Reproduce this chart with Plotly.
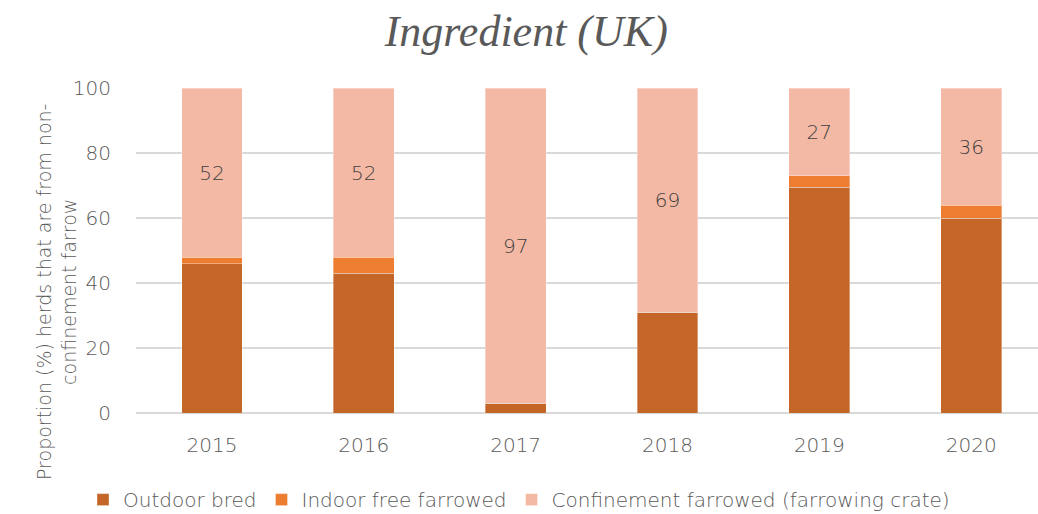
import plotly.graph_objects as go

# Data
years = ['2015', '2016', '2017', '2018', '2019', '2020']
outdoor_bred = [46, 43, 3, 31, 69.5, 60]
indoor_free = [2, 5, 0, 0, 3.5, 4]
confinement = [52, 52, 97, 69, 27, 36]
y_ticks = [0, 20, 40, 60, 80, 100]

COL_OUTDOOR = '#C46628'
COL_INDOOR = '#ED7D31'
COL_CONFINE = '#F4B9A5'
TEXT_GREY = '#595959'
GRID = '#D9D9D9'
FONT = 'DejaVu Sans'
W = 200

fig = go.Figure()

fig.add_trace(go.Bar(
    x=years, y=outdoor_bred, name='Outdoor bred',
    marker=dict(color=COL_OUTDOOR, line=dict(color='rgba(255,255,255,0.35)', width=1)),
    hoverinfo='skip'
))
fig.add_trace(go.Bar(
    x=years, y=indoor_free, name='Indoor free farrowed',
    marker=dict(color=COL_INDOOR, line=dict(color='rgba(255,255,255,0.35)', width=1)),
    hoverinfo='skip'
))
fig.add_trace(go.Bar(
    x=years, y=confinement, name='Confinement farrowed (farrowing crate)',
    marker=dict(color=COL_CONFINE, line=dict(color='rgba(255,255,255,0.35)', width=1)),
    text=[str(v) for v in confinement],
    textposition='inside', insidetextanchor='middle',
    textfont=dict(family=FONT, size=20, color='#404040', weight=W),
    hoverinfo='skip'
))

fig.update_layout(
    width=1038, height=514,
    barmode='stack', bargap=0.6,
    plot_bgcolor='white', paper_bgcolor='white',
    margin=dict(l=136, r=0, t=88, b=101, autoexpand=False),
    font=dict(family=FONT, color=TEXT_GREY, size=20, weight=W),
    title=dict(
        text='<i>Ingredient (UK)</i>',
        font=dict(family='Liberation Serif', size=44, color=TEXT_GREY),
        x=0.507, xref='container', xanchor='center',
        y=0.94, yref='container', yanchor='middle'
    ),
    xaxis=dict(
        range=[-0.5, 5.44], showgrid=False, showline=False, ticks='',
        ticklabelstandoff=18,
        tickfont=dict(family=FONT, size=20, color=TEXT_GREY, weight=W)
    ),
    yaxis=dict(
        range=[0, 100], tickvals=y_ticks, showgrid=True, gridcolor=GRID, gridwidth=1.5,
        zeroline=True, zerolinecolor=GRID, zerolinewidth=1.5,
        showline=False, ticks='', ticklabelstandoff=24,
        tickfont=dict(family=FONT, size=20, color=TEXT_GREY, weight=W)
    ),
    legend=dict(
        orientation='h', xref='container', x=0.5, xanchor='center',
        yref='container', y=0.028, yanchor='middle',
        font=dict(family=FONT, size=20, color=TEXT_GREY, weight=W),
        bgcolor='rgba(0,0,0,0)', traceorder='normal'
    ),
    annotations=[dict(
        text='Proportion (%) herds that are from non-<br>confinement farrow',
        xref='paper', yref='paper', x=0, y=0.5, xshift=-105, yshift=-42,
        textangle=-90, showarrow=False,
        font=dict(family=FONT, size=19, color=TEXT_GREY, weight=W)
    )]
)

# drop the default page margin so the figure sits at the window's top-left
fig.write_html('out.html', config={'displayModeBar': False},
               post_script="document.body.style.margin='0';")
